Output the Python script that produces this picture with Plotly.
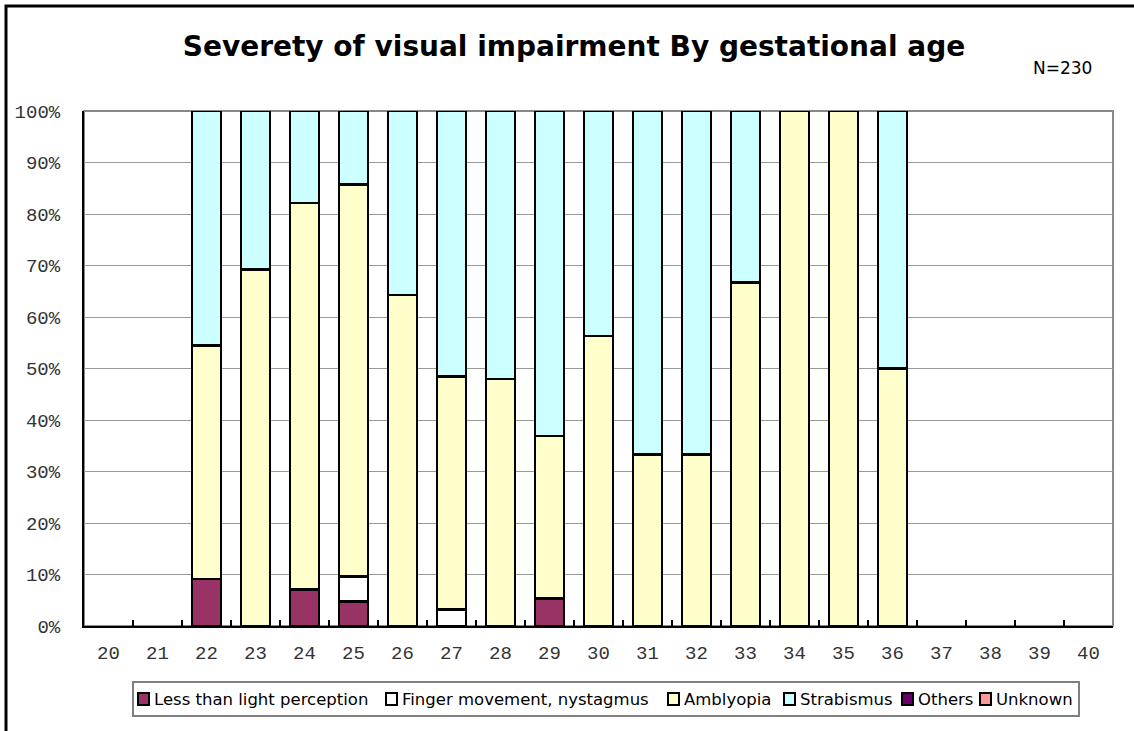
import plotly.graph_objects as go

ages = [str(a) for a in range(20, 41)]

# percentages per gestational age (None = no cases)
less_than_light = [None, None, 9.1, None, 7.1, 4.8, None, None, None, 5.3, None, None, None, None, None, None, None, None, None, None, None]
finger_movement = [None, None, None, None, None, 4.8, None, 3.2, None, None, None, None, None, None, None, None, None, None, None, None, None]
amblyopia = [None, None, 45.4, 69.2, 75.0, 76.1, 64.3, 45.2, 48.0, 31.6, 56.3, 33.3, 33.3, 66.7, 100.0, 100.0, 50.0, None, None, None, None]
strabismus = [None, None, 45.5, 30.8, 17.9, 14.3, 35.7, 51.6, 52.0, 63.1, 43.7, 66.7, 66.7, 33.3, None, None, 50.0, None, None, None, None]
others = [None] * 21
unknown = [None] * 21

series_names = ["Less than light perception", "Finger movement, nystagmus", "Amblyopia",
                "Strabismus", "Others", "Unknown"]
series_values = [less_than_light, finger_movement, amblyopia, strabismus, others, unknown]
series_colors = ["#993366", "#FFFFFF", "#FFFFCC", "#CCFFFF", "#660066", "#FF9999"]

fig = go.Figure()
for name, vals, col in zip(series_names, series_values, series_colors):
    fig.add_trace(go.Bar(
        x=ages, y=vals, name=name,
        marker=dict(color=col, line=dict(color="#000000", width=2.5)),
        width=0.6,
        showlegend=False,
    ))

W, H = 1134, 731
L, R, T, B = 84, 21, 111, 105
pw = W - L - R
ph = H - T - B


def px_x(x):
    return (x - L) / pw


def px_y(y):
    return (T + ph - y) / ph


shapes = [
    # plot-area border (top/right gray)
    dict(type="rect", xref="paper", yref="paper", x0=0, y0=0, x1=1, y1=1,
         line=dict(color="#888888", width=2), layer="below"),
    # outer chart frame (continues beyond the image right/bottom)
    dict(type="rect", xref="paper", yref="paper",
         x0=px_x(6), y0=-0.5, x1=1.2, y1=px_y(6),
         line=dict(color="#000000", width=3)),
    # legend box
    dict(type="rect", xref="paper", yref="paper",
         x0=px_x(133), y0=px_y(716), x1=px_x(1079), y1=px_y(682),
         line=dict(color="#808080", width=2), fillcolor="white"),
]
annotations = [
    dict(text="N=230", x=px_x(1062), y=px_y(68),
         xref="paper", yref="paper", xanchor="center", yanchor="middle",
         showarrow=False, font=dict(family="DejaVu Sans", size=17, color="#000000")),
]

# custom legend (small squares right next to their labels)
legend_left = [138, 386, 668, 784, 902, 980]
ly = 699
for name, col, lx in zip(series_names, series_colors, legend_left):
    shapes.append(dict(type="rect", xref="paper", yref="paper",
                       x0=px_x(lx), x1=px_x(lx + 11), y0=px_y(ly + 6), y1=px_y(ly - 6),
                       line=dict(color="#000000", width=2), fillcolor=col))
    annotations.append(dict(text=name, x=px_x(lx + 14), y=px_y(ly),
                            xref="paper", yref="paper", xanchor="left", yanchor="middle",
                            showarrow=False,
                            font=dict(family="DejaVu Sans", size=16.5, color="#000000")))

fig.update_layout(
    width=W, height=H,
    margin=dict(l=L, r=R, t=T, b=B),
    barmode="stack",
    paper_bgcolor="white",
    plot_bgcolor="white",
    title=dict(
        text="<b>Severety of visual impairment By gestational age</b>",
        x=574 / W, xanchor="center", y=1 - 46 / H, yanchor="middle",
        font=dict(family="DejaVu Sans", size=28, color="#000000"),
    ),
    showlegend=False,
    xaxis=dict(
        type="category",
        showline=True, linecolor="#000000", linewidth=2,
        ticks="inside", tickson="boundaries", ticklen=6, tickcolor="#000000", tickwidth=1.5,
        showgrid=False,
        tickfont=dict(family="Liberation Mono", size=19, color="#333333"),
        ticklabelstandoff=8,
    ),
    yaxis=dict(
        range=[0, 100],
        tickvals=list(range(0, 101, 10)),
        ticktext=[f"{v}%" for v in range(0, 101, 10)],
        showline=True, linecolor="#000000", linewidth=2,
        showgrid=True, gridcolor="#999999", gridwidth=1,
        zeroline=False,
        ticks="",
        tickfont=dict(family="Liberation Mono", size=19, color="#333333"),
        ticklabelstandoff=18,
    ),
    annotations=annotations,
    shapes=shapes,
)

fig.write_html(
    "out.html",
    config={"displayModeBar": False},
    post_script="document.body.style.margin='0px';document.body.style.overflow='hidden';",
)
